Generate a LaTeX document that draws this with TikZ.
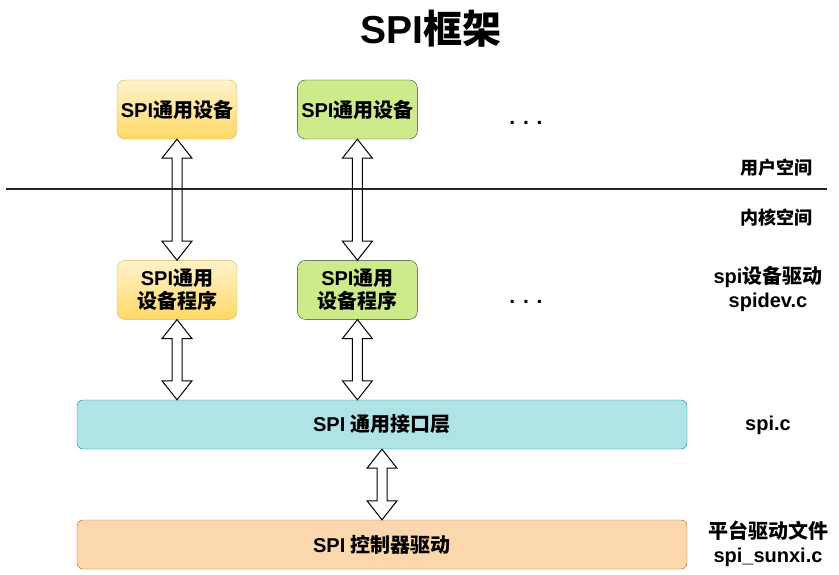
\documentclass[tikz,border=0pt]{standalone}
\usepackage{fontspec}
\setmainfont{Liberation Sans}
\newfontfamily\cjk{Noto Sans CJK SC}
\usetikzlibrary{positioning,calc}
\usepackage{xcolor}
\definecolor{devtop}{HTML}{FFF2CC}
\definecolor{devbot}{HTML}{FFD966}
\definecolor{devline}{HTML}{D6B656}
\definecolor{drvfill}{HTML}{CDEB8B}
\definecolor{drvline}{HTML}{36393D}
\definecolor{iffill}{HTML}{B0E3E6}
\definecolor{ifline}{HTML}{0E8088}
\definecolor{ctlfill}{HTML}{FAD7AC}
\definecolor{ctlline}{HTML}{B46504}
\newcommand{\zh}[1]{{\cjk #1}}
% hollow double arrow between two anchors (upper first)
\newcommand{\dblarrow}[2]{%
  \draw[fatarrow] let \p1=(#1), \p2=(#2) in
    (\x1,\y1) -- ++(15pt,-19pt) -- ++(-10pt,0pt) -- (\x1+5pt,\y2+19pt) -- ++(10pt,0pt) -- (\x1,\y2)
    -- ++(-15pt,19pt) -- ++(10pt,0pt) -- (\x1-5pt,\y1-19pt) -- ++(-10pt,0pt) -- cycle;}

\begin{document}
\begin{tikzpicture}[x=1pt, y=-1pt, node distance=60pt, every node/.style={font=\bfseries\fontsize{20}{22.5}\selectfont}]
\tikzset{box/.style={draw, rounded corners=8pt, align=center, minimum width=120pt, minimum height=59pt, inner sep=2pt}}
\tikzset{yellowbox/.style={box, top color=devtop, bottom color=devbot, draw=devline}}
\tikzset{greenbox/.style={box, fill=drvfill, draw=drvline}}
\tikzset{layer/.style={draw, rounded corners=6pt, minimum width=610pt, minimum height=49pt}}
\tikzset{fatarrow/.style={draw=black, fill=white, line width=1pt, line join=miter}}
\tikzset{side/.style={align=center, font=\bfseries\fontsize{20}{24}\selectfont}}
\tikzset{dots/.style={font=\bfseries\fontsize{21}{24}\selectfont}}
\useasboundingbox (0,0) rectangle (839,575);

\node[font=\bfseries\fontsize{39}{44}\selectfont] (title) at (431,29) {SPI\zh{框架}};

\node[yellowbox] (dev1) at (177,109.5) {SPI\zh{通用设备}};
\node[greenbox, right=of dev1] (dev2) {SPI\zh{通用设备}};
\node[dots] (more1) at (526,123) {. . .};

\node[yellowbox, below=121pt of dev1] (drv1) {SPI\zh{通用}\\\zh{设备程序}};
\node[greenbox, right=of drv1] (drv2) {SPI\zh{通用}\\\zh{设备程序}};
\node[dots] (more2) at (526,302) {. . .};

\node[layer, fill=iffill, draw=ifline] (iface) at (382,424.5) {SPI \zh{通用接口层}};
\node[layer, fill=ctlfill, draw=ctlline] (ctrl) at (382,544.5) {SPI \zh{控制器驱动}};

\node[side, font=\bfseries\fontsize{18}{20}\selectfont] (user) at (776,168) {\zh{用户空间}};
\node[side, font=\bfseries\fontsize{18}{20}\selectfont] (kernel) at (776,218) {\zh{内核空间}};
\node[side] (spidev) at (768,289) {spi\zh{设备驱动}\\spidev.c};
\node[side] (spic) at (768,425) {spi.c};
\node[side] (sunxi) at (768,544) {\zh{平台驱动文件}\\spi\_sunxi.c};

\dblarrow{dev1.south}{drv1.north}
\dblarrow{dev2.south}{drv2.north}
\dblarrow{drv1.south}{drv1.south |- iface.north}
\dblarrow{drv2.south}{drv2.south |- iface.north}
\dblarrow{iface.south}{ctrl.north}

\coordinate (sepL) at (6,189);
\coordinate (sepR) at (827,189);
\draw[line width=1.6pt, black!85] (sepL) -- (sepR);
\end{tikzpicture}
\end{document}
